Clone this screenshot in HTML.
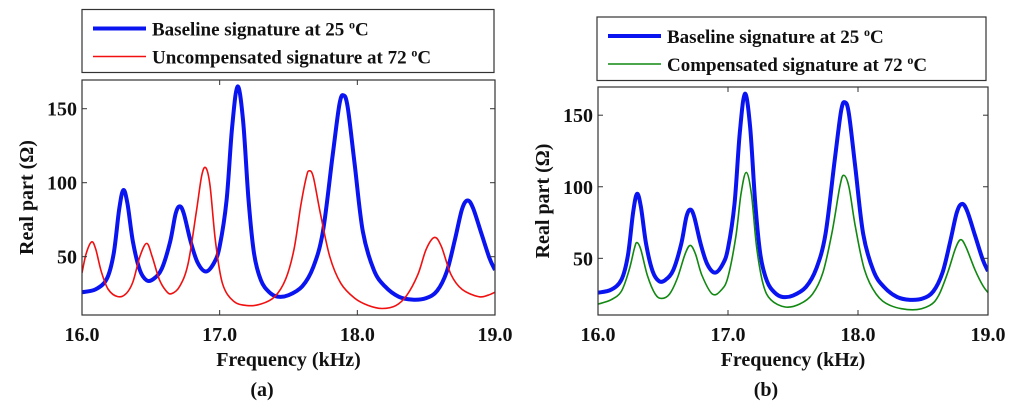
<!DOCTYPE html>
<html><head><meta charset="utf-8"><style>
html,body{margin:0;padding:0;background:#fff;}
svg{display:block;}
svg text{font-family:"Liberation Serif","DejaVu Serif",serif;font-weight:bold;}
</style></head><body>
<svg id="fig" width="1024" height="410" viewBox="0 0 1024 410" xmlns="http://www.w3.org/2000/svg"></svg>
<script>
// ---- data ----
const baseF=[16.00,16.10,16.18,16.23,16.27,16.30,16.33,16.37,16.42,16.47,16.52,16.58,16.64,16.68,16.71,16.74,16.79,16.84,16.90,16.96,17.00,17.05,17.09,17.13,17.17,17.21,17.25,17.30,17.36,17.42,17.50,17.60,17.68,17.75,17.82,17.87,17.90,17.93,17.98,18.04,18.12,18.20,18.30,18.40,18.50,18.58,18.65,18.71,18.76,18.80,18.84,18.90,18.96,19.00];
const baseV=[26,28,35,52,82,95,86,60,41,34,35,42,60,79,84,79,60,46,40,46,57,88,137,165,142,88,52,34,26,23,24,30,43,67,118,153,159,151,113,67,41,30,23,21,22,27,40,62,82,88,83,66,49,41];
const uncF=[16.00,16.03,16.07,16.10,16.14,16.19,16.26,16.32,16.37,16.42,16.47,16.51,16.56,16.61,16.65,16.71,16.77,16.83,16.87,16.90,16.93,16.97,17.02,17.10,17.20,17.30,17.40,17.48,17.54,17.59,17.63,17.65,17.68,17.73,17.80,17.88,17.98,18.08,18.18,18.28,18.36,18.44,18.50,18.56,18.61,18.68,18.76,18.88,18.95,19.00];
const uncV=[39,52,60,55,40,28,23,25,33,50,59,50,35,27,25,30,45,80,105,110,98,60,32,20,17,18,23,35,55,85,104,108,104,80,50,32,22,17,15,17,24,38,55,63,57,38,28,23,24,26];
const compF=[16.00,16.10,16.18,16.24,16.28,16.30,16.33,16.38,16.44,16.49,16.55,16.61,16.67,16.71,16.75,16.80,16.88,16.95,17.00,17.06,17.10,17.14,17.18,17.22,17.27,17.33,17.44,17.55,17.65,17.73,17.80,17.86,17.89,17.93,17.98,18.05,18.14,18.25,18.42,18.55,18.62,18.69,18.75,18.79,18.83,18.90,18.96,19.00];
const compV=[18,21,27,42,57,61,56,38,25,22,25,36,53,59,53,38,25,28,37,65,95,110,95,58,32,21,16,18,25,40,68,100,108,100,72,42,25,17,14,17,24,40,57,63,58,42,31,26];
const xTicks=[16,17,18,19];
const xTickLabels=["16.0","17.0","18.0","19.0"];
const yTicks=[50,100,150];

const NS="http://www.w3.org/2000/svg";
const svg=document.getElementById('fig');
const FONT='"Liberation Serif","DejaVu Serif",serif';
function mk(tag,attrs,parent){const e=document.createElementNS(NS,tag);for(const k in attrs)e.setAttribute(k,attrs[k]);if(tag==='text'){e.setAttribute('font-family',FONT);e.setAttribute('font-weight','bold');}(parent||svg).appendChild(e);return e;}
function pathFor(F,V,sx,sy){
  const p=F.map((f,i)=>[sx(f),sy(V[i])]);
  let d="M"+p[0][0].toFixed(2)+","+p[0][1].toFixed(2);
  for(let i=0;i<p.length-1;i++){
    const p0=p[i-1]||p[i],p1=p[i],p2=p[i+1],p3=p[i+2]||p[i+1];
    const c1=[p1[0]+(p2[0]-p0[0])/6,p1[1]+(p2[1]-p0[1])/6];
    const c2=[p2[0]-(p3[0]-p1[0])/6,p2[1]-(p3[1]-p1[1])/6];
    d+="C"+c1[0].toFixed(2)+","+c1[1].toFixed(2)+" "+c2[0].toFixed(2)+","+c2[1].toFixed(2)+" "+p2[0].toFixed(2)+","+p2[1].toFixed(2);
  }
  return d;
}
function panel(cfg){
  const g=mk('g',{});
  
  
  const {L,R,T,B,ymin,ymax}=cfg;
  const sx=f=>L+(f-16)/(19-16)*(R-L);
  const sy=v=>B-(v-ymin)/(ymax-ymin)*(B-T);
  const cp=mk('clipPath',{id:cfg.name+'-clip'},g);
  mk('rect',{x:L,y:T,width:R-L,height:B-T},cp);
  const lg=mk('g',{},g);
  
  
  mk('rect',{x:cfg.lx,y:cfg.ly,width:cfg.lw,height:cfg.lh,fill:'#fff',stroke:'#333','stroke-width':1.2},lg);
  cfg.series.forEach((s,i)=>{
    const yy=cfg.ly+19+i*28;
    const e=mk('g',{},lg);
    
    
    mk('line',{x1:cfg.lx+11,x2:cfg.lx+64,y1:yy,y2:yy,stroke:s.color,'stroke-width':s.w},e);
    const t=mk('text',{x:cfg.lx+70,y:yy+7,'font-size':19,fill:'#111'},e);
    t.innerHTML=s.label;
  });
  cfg.series.forEach(s=>{
    const p=mk('path',{d:pathFor(s.F,s.V,sx,sy),fill:'none',stroke:s.color,'stroke-width':s.w,'clip-path':'url(#'+cfg.name+'-clip)','stroke-linejoin':'round'},g);
    
    
  });
  const box=mk('rect',{x:L,y:T,width:R-L,height:B-T,fill:'none',stroke:'#333','stroke-width':1.2},g);
  
  
  xTicks.forEach((f,i)=>{
    mk('line',{x1:sx(f),x2:sx(f),y1:B,y2:B-5,stroke:'#333'},g);
    mk('line',{x1:sx(f),x2:sx(f),y1:T,y2:T+5,stroke:'#333'},g);
    const t=mk('text',{x:sx(f),y:341,'text-anchor':'middle','font-size':20,fill:'#111'},g);
    t.textContent=xTickLabels[i];
    
    
  });
  yTicks.forEach(v=>{
    mk('line',{x1:L,x2:L+5,y1:sy(v),y2:sy(v),stroke:'#333'},g);
    mk('line',{x1:R,x2:R-5,y1:sy(v),y2:sy(v),stroke:'#333'},g);
    const t=mk('text',{x:L-5,y:sy(v)+7,'text-anchor':'end','font-size':20,fill:'#111'},g);
    t.textContent=String(v);
    
    
  });
  const xt=mk('text',{x:(L+R)/2,y:366,'text-anchor':'middle','font-size':20,fill:'#111'},g);
  xt.textContent='Frequency (kHz)';
  
  
  const cy=(T+B)/2;
  const yt=mk('text',{x:cfg.ytx,y:cy,'text-anchor':'middle','font-size':20,fill:'#111',transform:'rotate(-90 '+cfg.ytx+' '+cy+')'},g);
  yt.textContent='Real part (Ω)';
  
  
  const cap=mk('text',{x:cfg.capx,y:396,'text-anchor':'middle','font-size':20,fill:'#111'},g);
  cap.textContent=cfg.cap;
  
  
}
panel({name:'panel-a',L:82,R:495,T:80,B:315,ymin:10.6,ymax:169.4,lx:82,ly:9.5,lw:412,lh:63,ytx:33,capx:262,cap:'(a)',
  series:[{key:'baseline',F:baseF,V:baseV,color:'#0a14f0',w:4,label:'Baseline signature at 25 <tspan baseline-shift="super" font-size="12">o</tspan>C'},
          {key:'uncompensated',F:uncF,V:uncV,color:'#f01010',w:1.6,label:'Uncompensated signature at 72 <tspan baseline-shift="super" font-size="12">o</tspan>C'}]});
panel({name:'panel-b',L:598,R:988,T:87,B:315,ymin:10.4,ymax:169.7,lx:597,ly:17,lw:389,lh:63.5,ytx:549,capx:766,cap:'(b)',
  series:[{key:'baseline',F:baseF,V:baseV,color:'#0a14f0',w:4,label:'Baseline signature at 25 <tspan baseline-shift="super" font-size="12">o</tspan>C'},
          {key:'compensated',F:compF,V:compV,color:'#118811',w:1.6,label:'Compensated signature at 72 <tspan baseline-shift="super" font-size="12">o</tspan>C'}]});
</script>
</body></html>
